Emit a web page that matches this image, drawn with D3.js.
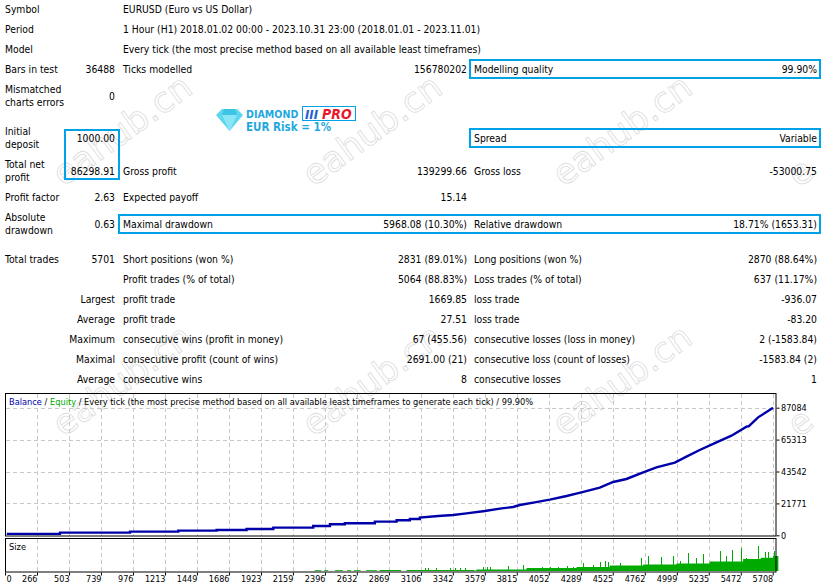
<!DOCTYPE html>
<html><head><meta charset="utf-8">
<script src="https://cdn.jsdelivr.net/npm/d3@7"></script>
<style>
html,body{margin:0;padding:0;background:#fff}
svg{display:block}
text{font-family:"DejaVu Sans Condensed","DejaVu Sans",sans-serif;font-size:10.3px;fill:#000}
</style></head><body>
<svg id="c" width="822" height="588"></svg>
<script>
const xTickLabels=[0,266,503,739,976,1213,1449,1686,1923,2159,2396,2632,2869,3106,3342,3579,3815,4052,4289,4525,4762,4999,5235,5472,5708];
const yTickValues=[0,21771,43542,65313,87084];
const balanceTrades=[42,436,436,954,954,1311,1311,1594,1594,1816,1816,2014,2014,2309,2309,2433,2433,2543,2543,2765,2765,2926,2926,3024,3024,3098,3098,3234,3344,3443,3579,3690,3788,3837,3948,4059,4183,4293,4429,4528,4626,4750,4848,4984,5070,5168,5292,5403,5514,5530,5600,5711];
const balanceValues=[1000,1000,1820,1820,2500,2500,3180,3180,3640,3640,4320,4320,5230,5230,6370,6370,7500,7500,8190,8190,9320,9320,10230,10230,11140,11140,12050,13190,13870,15000,16600,18190,19330,20690,22510,24330,26830,29330,32520,36380,38430,42980,46390,49570,53670,58210,63440,67990,74130,74400,80500,87084];
const sizeBaseTrades=[3492,3517,3887,4257,4503,4750,4996,5242,5489,5620,5711,5750];
const sizeBaseLots=[0.3,0.8,1.5,2,2.7,3.2,3.8,4.8,6,6.6,7.5,7.5];
const sizeSpikeTrades=[3135,3160,3221,3320,3357,3394,3431,3566,3591,3616,3751,3862,3998,4059,4121,4183,4232,4306,4380,4429,4466,4491,4577,4737,4787,4885,4971,5021,5082,5144,5193,5316,5366,5410,5477,5514,5600,5649,5674,5716];
const sizeSpikeLots=[1.3,1.3,1.3,1.5,1.5,1.5,1.5,1.8,2,2.2,2.5,2.8,2,1.8,2.2,2.5,2.2,4.2,2.8,4.7,4.8,4.7,4,6.7,7.3,7,7.5,5.2,8.8,6.7,8.5,10.2,7.7,10.5,11.3,6.7,12.3,9.7,9.3,10.2];
const sizeDashStarts=[2320,2390,2470,2560,2610,2700,2800,3000];
const sizeDashEnds=[2370,2420,2530,2590,2660,2780,2960,3500];
const sizeDashLots=[0.4,0.4,0.4,0.4,0.4,0.4,0.5,0.5];

const rowLabels=[
 ["Symbol",5,9],["Period",5,29],["Model",5,49],["Bars in test",5,69],["Mismatched",5,89],["charts errors",5,102],
 ["Initial",5,131],["deposit",5,144],["Total net",5,164],["profit",5,177],["Profit factor",5,197],["Absolute",5,217],["drawdown",5,230],["Total trades",5,259],
 ["EURUSD (Euro vs US Dollar)",123,9],["1 Hour (H1) 2018.01.02 00:00 - 2023.10.31 23:00 (2018.01.01 - 2023.11.01)",123,29],
 ["Every tick (the most precise method based on all available least timeframes)",123,49],
 ["Ticks modelled",123,69],["Gross profit",123,171],["Expected payoff",123,197],["Maximal drawdown",123,224],
 ["Short positions (won %)",123,259],["Profit trades (% of total)",123,279],["profit trade",123,299],["profit trade",123,319],
 ["consecutive wins (profit in money)",123,339],["consecutive profit (count of wins)",123,359],["consecutive wins",123,379],
 ["Modelling quality",474,69],["Spread",474,138],["Gross loss",474,171],["Relative drawdown",474,224],["Long positions (won %)",474,259],
 ["Loss trades (% of total)",474,279],["loss trade",474,299],["loss trade",474,319],["consecutive losses (loss in money)",474,339],
 ["consecutive loss (count of losses)",474,359],["consecutive losses",474,379]];
const rowValues=[
 ["36488",115,69],["0",115,96],["1000.00",115,138],["86298.91",115,171],["2.63",115,197],["0.63",115,224],["5701",115,259],
 ["Largest",115,299],["Average",115,319],["Maximum",115,339],["Maximal",115,359],["Average",115,379],
 ["156780202",467,69],["139299.66",467,171],["15.14",467,197],["5968.08 (10.30%)",467,224],["2831 (89.01%)",467,259],["5064 (88.83%)",467,279],
 ["1669.85",467,299],["27.51",467,319],["67 (455.56)",467,339],["2691.00 (21)",467,359],["8",467,379],
 ["99.90%",817,69],["Variable",817,138],["-53000.75",817,171],["18.71% (1653.31)",817,224],["2870 (88.64%)",817,259],["637 (11.17%)",817,279],
 ["-936.07",817,299],["-83.20",817,319],["2 (-1583.84)",817,339],["-1583.84 (2)",817,359],["1",817,379]];
const boxes=[[470,60,350,18],[470,129,350,18],[65,130,54,49],[119,215,701,18]];
const watermarkCentres=[[122,130],[372,130],[622,130],[122,380],[372,380],[622,380]];
const watermarkStubs=[[800,172],[800,422]];

const svg=d3.select("#c");
const x=d3.scaleLinear().domain([29.3,5708]).range([5,772.7]);
const y=d3.scaleLinear().domain([0,87084]).range([535.3,407.7]);
const ys=d3.scaleLinear().domain([0,17]).range([571,537]);
const tickPos=xTickLabels.map((v,i)=>i?v:29.3);

// watermark
const wm=svg.append("g");
const wmText=(cx,cy,t)=>wm.append("text").attr("transform",`translate(${cx},${cy}) rotate(-36)`).attr("text-anchor","middle").attr("dy","0.35em")
  .style("font-family","'DejaVu Sans'").style("font-size","35px").style("fill","#fff").style("stroke","#dcdcdc").style("stroke-width","0.8px").text(t);
watermarkCentres.forEach(([cx,cy])=>wmText(cx,cy,"eahub.cn"));
watermarkStubs.forEach(([cx,cy])=>wmText(cx,cy,"e"));

// table
const tg=svg.append("g");
tg.selectAll("text.l").data(rowLabels).join("text").attr("class","l").attr("x",d=>d[1]).attr("y",d=>d[2]).attr("dy","0.36em").text(d=>d[0]);
tg.selectAll("text.v").data(rowValues).join("text").attr("class","v").attr("x",d=>d[1]).attr("y",d=>d[2]).attr("dy","0.36em").attr("text-anchor","end").text(d=>d[0]);
svg.append("g").selectAll("rect").data(boxes).join("rect").attr("x",d=>d[0]).attr("y",d=>d[1]).attr("width",d=>d[2]).attr("height",d=>d[3])
 .attr("fill","none").attr("stroke","#00a2e8").attr("stroke-width",2);

// logo
const logo=svg.append("g");
logo.append("polygon").attr("points","216,115 222,109 237,109 243,115 229.5,131").attr("fill","#5ed6ee");
logo.append("polygon").attr("points","222,115 237,115 229.5,131").attr("fill","#8ae6f7");
logo.append("polygon").attr("points","224,109 235,109 237,115 222,115").attr("fill","#3cc4e2");
const lt=(t,xx,yy,c,st)=>logo.append("text").attr("x",xx).attr("y",yy).attr("dy","0.36em").style("font-family","'DejaVu Sans Condensed','DejaVu Sans'").style("font-weight","bold").style("font-size",(st&&st.fs||11.5)+"px").style("font-style",st&&st.it?"italic":"normal").style("fill",c).text(t);
lt("DIAMOND",246,114,"#1fa8e0",{fs:10.6});
logo.append("rect").attr("x",302.5).attr("y",106.5).attr("width",53).attr("height",14).attr("fill","#fff").attr("stroke","#00a2e8");
lt("III",305,114,"#1f5fd0",{it:1,fs:13});
lt("PRO",322,114,"#e8182c",{it:1,fs:14});
lt("EUR Risk = 1%",246,127,"#1fa8e0",{fs:11.5});

// panes
const main=svg.append("g"), sz=svg.append("g");
const gridStyle=s=>s.attr("stroke","#c8c8c8").attr("stroke-dasharray","4 3").attr("shape-rendering","crispEdges");
main.append("g").selectAll("line").data(tickPos.slice(1)).join("line").attr("x1",d=>Math.round(x(d))+.5).attr("x2",d=>Math.round(x(d))+.5).attr("y1",394).attr("y2",536).call(gridStyle);
main.append("g").selectAll("line").data(yTickValues.slice(1)).join("line").attr("x1",6).attr("x2",776).attr("y1",d=>Math.round(y(d))+.5).attr("y2",d=>Math.round(y(d))+.5).call(gridStyle);
sz.append("g").selectAll("line").data(tickPos.slice(1)).join("line").attr("x1",d=>Math.round(x(d))+.5).attr("x2",d=>Math.round(x(d))+.5).attr("y1",539).attr("y2",572).call(gridStyle);

// size pane marks
const green="#00aa00";
sz.append("g").selectAll("rect").data(sizeDashStarts).join("rect").attr("x",d=>x(d)).attr("width",(d,i)=>x(sizeDashEnds[i])-x(d)).attr("y",(d,i)=>ys(sizeDashLots[i])).attr("height",(d,i)=>ys(0)-ys(sizeDashLots[i])).attr("fill",green);
sz.append("path").datum(sizeBaseTrades).attr("fill",green)
 .attr("d",d3.area().curve(d3.curveStepAfter).x(d=>x(d)).y0(ys(0)).y1((d,i)=>ys(sizeBaseLots[i])));
sz.append("g").selectAll("line").data(sizeSpikeTrades).join("line").attr("x1",d=>Math.round(x(d))+.5).attr("x2",d=>Math.round(x(d))+.5).attr("y1",ys(0)).attr("y2",(d,i)=>ys(sizeSpikeLots[i])).attr("stroke",green).attr("shape-rendering","crispEdges");
sz.append("text").attr("x",9).attr("y",547).attr("dy","0.36em").style("font-size","9.2px").text("Size");

// balance
main.append("path").datum(balanceTrades).attr("fill","none").attr("stroke","#0000aa").attr("stroke-width",2.4)
 .attr("d",d3.line().x(d=>x(d)).y((d,i)=>y(balanceValues[i])));

// frames
main.append("rect").attr("x",5.5).attr("y",393.5).attr("width",770.5).attr("height",142.5).attr("fill","none").attr("stroke","#000");
sz.append("rect").attr("x",5.5).attr("y",538.5).attr("width",770.5).attr("height",33.5).attr("fill","none").attr("stroke","#000");

// axes
const yAxis=svg.append("g").attr("transform","translate(776.5,0)").call(d3.axisRight(y).tickValues(yTickValues).tickSize(3).tickPadding(2).tickFormat(d3.format("d")));
yAxis.select(".domain").remove();
yAxis.selectAll("text").style("font-size","9px").attr("x",4.5);
const xAxis=svg.append("g").attr("transform","translate(0,572.5)").call(d3.axisBottom(x).tickValues(tickPos).tickSize(3).tickPadding(2).tickFormat((d,i)=>xTickLabels[i]));
xAxis.select(".domain").remove();
xAxis.selectAll("text").style("font-size","9px").attr("text-anchor",(d,i)=>i?"end":"start").attr("x",(d,i)=>i?0:1).attr("y",3).attr("dy","0.71em");

// legend
const leg=svg.append("text").attr("x",9).attr("y",402).attr("dy","0.36em").style("font-size","9.18px");
[["Balance","#0000aa"],[" / ","#000"],["Equity","#00aa00"],[" / Every tick (the most precise method based on all available least timeframes to generate each tick) / 99.90%","#000"]]
 .forEach(([t,c])=>leg.append("tspan").style("fill",c).attr("xml:space","preserve").text(t));
</script>
</body></html>
